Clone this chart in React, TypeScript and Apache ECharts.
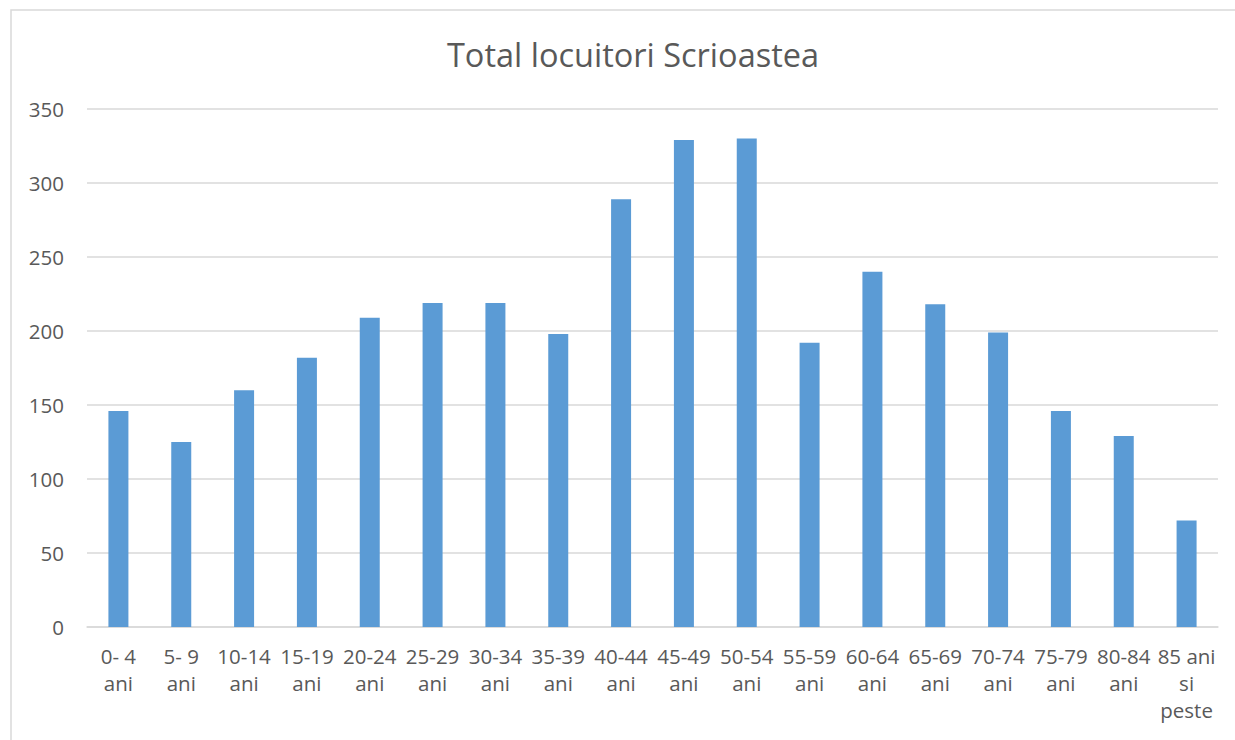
import React, { useEffect, useRef } from "react";
import * as echarts from "echarts";

const categories = [
  "0- 4 ani", "5- 9 ani", "10-14 ani", "15-19 ani", "20-24 ani", "25-29 ani",
  "30-34 ani", "35-39 ani", "40-44 ani", "45-49 ani", "50-54 ani", "55-59 ani",
  "60-64 ani", "65-69 ani", "70-74 ani", "75-79 ani", "80-84 ani", "85 ani si peste",
];
const values = [146, 125, 160, 182, 209, 219, 219, 198, 289, 329, 330, 192, 240, 218, 199, 146, 129, 72];
const yTicks = { min: 0, max: 350, interval: 50 };
const title = "Total locuitori Scrioastea";

const FONT = "'Open Sans', 'Noto Sans', sans-serif";
const TEXT = "#595959";

function wrapLabel(v: string): string {
  if (v === "85 ani si peste") return "85 ani\nsi\npeste";
  return v.replace(" ani", "\nani");
}

export default function App() {
  const ref = useRef<HTMLDivElement>(null);
  useEffect(() => {
    if (!ref.current) return;
    const chart = echarts.init(ref.current, null, { renderer: "svg" });
    chart.setOption({
      animation: false,
      backgroundColor: "#ffffff",
      title: {
        text: title,
        left: 628,
        textAlign: "center",
        top: 33,
        textStyle: { fontFamily: FONT, fontSize: 32.5, fontWeight: "normal", color: TEXT },
      },
      graphic: [
        {
          type: "rect",
          shape: { x: 11, y: 10, width: 1260, height: 760 },
          style: { fill: "none", stroke: "#D9D9D9", lineWidth: 1.5 },
          silent: true,
        },
      ],
      grid: { left: 87, right: 17, top: 109, bottom: 113, containLabel: false },
      xAxis: {
        type: "category",
        data: categories,
        axisLine: { lineStyle: { color: "#D9D9D9", width: 1.5 } },
        axisTick: { show: false },
        axisLabel: {
          interval: 0,
          formatter: wrapLabel,
          fontFamily: FONT,
          fontSize: 20.5,
          lineHeight: 27,
          color: TEXT,
          margin: 15,
        },
      },
      yAxis: {
        type: "value",
        min: yTicks.min,
        max: yTicks.max,
        interval: yTicks.interval,
        axisLine: { show: false },
        axisTick: { show: false },
        splitLine: { lineStyle: { color: "#D9D9D9", width: 1.5 } },
        axisLabel: { fontFamily: FONT, fontSize: 20.5, color: TEXT, margin: 23 },
      },
      series: [
        {
          type: "bar",
          data: values,
          barWidth: 20,
          itemStyle: { color: "#5B9BD5" },
        },
      ],
    });
    return () => chart.dispose();
  }, []);
  return (
    <div
      ref={ref}
      style={{ position: "fixed", left: 0, top: 0, width: 1235, height: 740, background: "#fff" }}
    />
  );
}
